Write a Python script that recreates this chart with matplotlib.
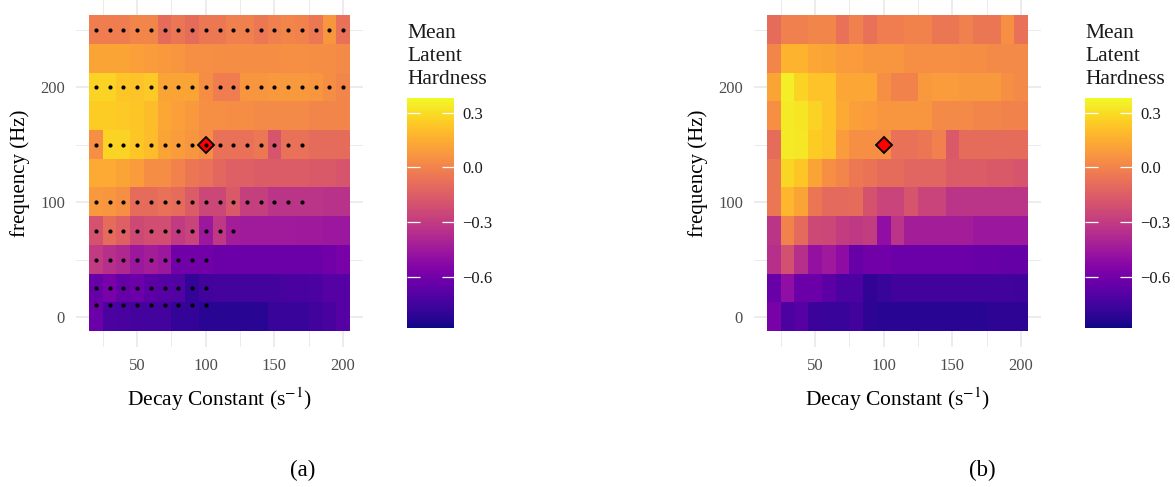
import numpy as np
import matplotlib.pyplot as plt

plt.rcParams['font.family'] = 'serif'
plt.rcParams['font.serif'] = ['Liberation Serif', 'DejaVu Serif']
plt.rcParams['mathtext.fontset'] = 'stix'

# tile grid
decay_constants = [20, 30, 40, 50, 60, 70, 80, 90, 100, 110, 120, 130, 140, 150, 160, 170, 180, 190, 200]
frequencies = [0, 25, 50, 75, 100, 125, 150, 175, 200, 225, 250]

# mean latent hardness, one row per frequency (0 Hz first)
hardness_a = [
    [-0.62, -0.72, -0.73, -0.74, -0.74, -0.74, -0.79, -0.79, -0.82, -0.82, -0.82, -0.82, -0.82, -0.78, -0.78, -0.78, -0.75, -0.73, -0.69],
    [-0.63, -0.58, -0.64, -0.62, -0.67, -0.69, -0.70, -0.79, -0.75, -0.74, -0.74, -0.74, -0.74, -0.74, -0.73, -0.73, -0.72, -0.69, -0.69],
    [-0.30, -0.35, -0.38, -0.46, -0.43, -0.46, -0.60, -0.60, -0.60, -0.62, -0.62, -0.62, -0.62, -0.62, -0.62, -0.62, -0.62, -0.60, -0.58],
    [-0.20, -0.09, -0.14, -0.24, -0.22, -0.22, -0.30, -0.26, -0.46, -0.31, -0.43, -0.44, -0.44, -0.44, -0.44, -0.45, -0.45, -0.46, -0.46],
    [0.08, 0.07, 0.05, -0.09, -0.09, -0.07, -0.09, -0.16, -0.25, -0.25, -0.17, -0.28, -0.28, -0.33, -0.33, -0.33, -0.33, -0.34, -0.34],
    [0.14, 0.14, 0.12, 0.09, 0.04, 0.04, 0.00, -0.05, -0.07, -0.11, -0.14, -0.14, -0.16, -0.16, -0.16, -0.16, -0.17, -0.17, -0.19],
    [0.05, 0.27, 0.27, 0.23, 0.20, 0.12, 0.09, 0.07, 0.04, -0.07, -0.07, -0.07, -0.04, -0.19, -0.07, -0.07, -0.09, -0.09, -0.09],
    [0.25, 0.25, 0.24, 0.23, 0.20, 0.13, 0.10, 0.08, 0.05, 0.05, 0.04, 0.04, 0.03, 0.03, 0.03, 0.03, 0.01, 0.01, 0.01],
    [0.27, 0.27, 0.23, 0.22, 0.24, 0.12, 0.12, 0.12, 0.04, -0.02, -0.02, 0.07, 0.07, 0.08, 0.08, 0.08, 0.07, 0.04, 0.01],
    [0.12, 0.12, 0.12, 0.10, 0.09, 0.08, 0.07, 0.05, 0.05, 0.04, 0.04, 0.04, 0.04, 0.04, 0.05, 0.05, 0.04, 0.04, 0.03],
    [-0.02, -0.02, -0.02, 0.01, 0.01, -0.09, -0.05, -0.09, -0.04, -0.04, -0.01, -0.01, -0.04, -0.01, 0.01, 0.00, -0.04, 0.07, -0.07],
]

hardness_b = [
    [-0.58, -0.72, -0.69, -0.77, -0.78, -0.78, -0.75, -0.81, -0.82, -0.82, -0.82, -0.82, -0.82, -0.82, -0.82, -0.82, -0.81, -0.81, -0.81],
    [-0.63, -0.50, -0.62, -0.62, -0.67, -0.72, -0.72, -0.80, -0.78, -0.75, -0.75, -0.75, -0.75, -0.75, -0.75, -0.75, -0.75, -0.75, -0.76],
    [-0.35, -0.21, -0.35, -0.49, -0.45, -0.51, -0.63, -0.60, -0.60, -0.62, -0.62, -0.62, -0.62, -0.62, -0.62, -0.63, -0.63, -0.64, -0.64],
    [-0.33, 0.00, -0.10, -0.24, -0.25, -0.29, -0.31, -0.29, -0.50, -0.33, -0.43, -0.43, -0.43, -0.43, -0.43, -0.46, -0.46, -0.46, -0.46],
    [-0.05, 0.18, 0.12, -0.05, -0.10, -0.10, -0.09, -0.20, -0.26, -0.26, -0.19, -0.26, -0.26, -0.33, -0.33, -0.33, -0.33, -0.33, -0.33],
    [-0.05, 0.28, 0.23, 0.12, 0.05, 0.01, -0.04, -0.06, -0.09, -0.09, -0.12, -0.12, -0.12, -0.16, -0.16, -0.16, -0.17, -0.17, -0.19],
    [-0.09, 0.34, 0.33, 0.25, 0.22, 0.09, 0.05, 0.05, 0.05, -0.07, -0.07, -0.05, -0.01, -0.17, -0.09, -0.09, -0.09, -0.09, -0.09],
    [0.05, 0.34, 0.32, 0.27, 0.22, 0.14, 0.10, 0.09, 0.07, 0.07, 0.07, 0.07, 0.03, 0.03, 0.03, 0.01, 0.01, 0.00, 0.00],
    [0.12, 0.35, 0.27, 0.22, 0.22, 0.13, 0.13, 0.13, 0.05, 0.00, 0.00, 0.08, 0.09, 0.09, 0.08, 0.08, 0.08, 0.05, 0.03],
    [0.01, 0.17, 0.17, 0.13, 0.12, 0.09, 0.09, 0.07, 0.07, 0.07, 0.05, 0.05, 0.05, 0.05, 0.04, 0.04, 0.03, 0.03, 0.03],
    [-0.09, -0.01, -0.01, 0.01, 0.01, -0.07, -0.01, -0.07, -0.02, -0.02, 0.00, 0.00, -0.05, -0.05, -0.01, -0.05, -0.05, 0.05, -0.07],
]

# sampled conditions (panel a): frequency and the largest decay constant sampled
sample_freqs = [10, 25, 50, 75, 100, 150, 200, 250]
sample_max_decay = [100, 100, 100, 120, 170, 170, 200, 200]

# highlighted condition
best_decay = 100
best_freq = 150

vmin, vmax = -0.88, 0.38
W, H = 1175, 487


def px_rect(x0, y0, x1, y1):
    return [x0 / W, 1 - y1 / H, (x1 - x0) / W, (y1 - y0) / H]


fig = plt.figure(figsize=(W / 100, H / 100), dpi=100)


def draw_panel(ax_box, cb_box, data, caption, cap_x, show_points):
    ax = fig.add_axes(px_rect(*ax_box))
    dx = decay_constants[1] - decay_constants[0]
    df = frequencies[1] - frequencies[0]
    x0, x1 = decay_constants[0] - dx / 2, decay_constants[-1] + dx / 2
    y0, y1 = frequencies[0] - df / 2, frequencies[-1] + df / 2
    im = ax.imshow(np.array(data), origin='lower', extent=(x0, x1, y0, y1), aspect='auto',
                   cmap='plasma', vmin=vmin, vmax=vmax, interpolation='nearest', zorder=1)
    ex, ey = 0.05 * (x1 - x0), 0.05 * (y1 - y0)
    ax.set_xlim(x0 - ex, x1 + ex)
    ax.set_ylim(y0 - ey, y1 + ey)

    ax.set_xticks([50, 100, 150, 200])
    ax.set_xticks([25, 75, 125, 175], minor=True)
    ax.set_yticks([0, 100, 200])
    ax.set_yticks([50, 150, 250], minor=True)
    ax.set_axisbelow(True)
    ax.grid(True, which='major', color='#ebebeb', linewidth=1.3)
    ax.grid(True, which='minor', color='#ebebeb', linewidth=0.7)
    for s in ax.spines.values():
        s.set_visible(False)
    ax.tick_params(which='both', length=0, labelsize=12, labelcolor='#4d4d4d', pad=8)

    ax.set_xlabel('Decay Constant (s$^{-1}$)', fontsize=15.5, labelpad=8)
    ax.set_ylabel('frequency (Hz)', fontsize=15, labelpad=7)

    ax.plot([best_decay], [best_freq], marker='D', markersize=8.5, markerfacecolor='#ff0000',
            markeredgecolor='black', markeredgewidth=1.3, linestyle='none', zorder=3)

    if show_points:
        px, py = [], []
        for f, m in zip(sample_freqs, sample_max_decay):
            for d in decay_constants:
                if d <= m:
                    px.append(d)
                    py.append(f)
        ax.scatter(px, py, s=9, color='black', zorder=4, linewidths=0)

    cax = fig.add_axes(px_rect(*cb_box))
    cb = fig.colorbar(im, cax=cax, ticks=[-0.6, -0.3, 0.0, 0.3])
    cb.outline.set_visible(False)
    cb.ax.set_yticklabels(['\u22120.6', '\u22120.3', '0.0', '0.3'])
    cb.ax.tick_params(direction='in', color='white', length=9, width=0.9,
                      left=True, right=True, labelsize=12, labelcolor='#1a1a1a', pad=6)
    fig.text(cb_box[0] / W, 1 - 24 / H, 'Mean\nLatent\nHardness', fontsize=15.5,
             va='top', ha='left', linespacing=1.28, color='#1a1a1a')

    fig.text(cap_x / W, 1 - 470 / H, caption, fontsize=16.5, ha='center', va='center')


draw_panel((76, 0, 363, 347), (407, 98, 454, 328), hardness_a, '(a)', 303, True)
draw_panel((754, 0, 1041, 347), (1085, 98, 1132, 328), hardness_b, '(b)', 982, False)

fig.savefig('out.png', dpi=100)
